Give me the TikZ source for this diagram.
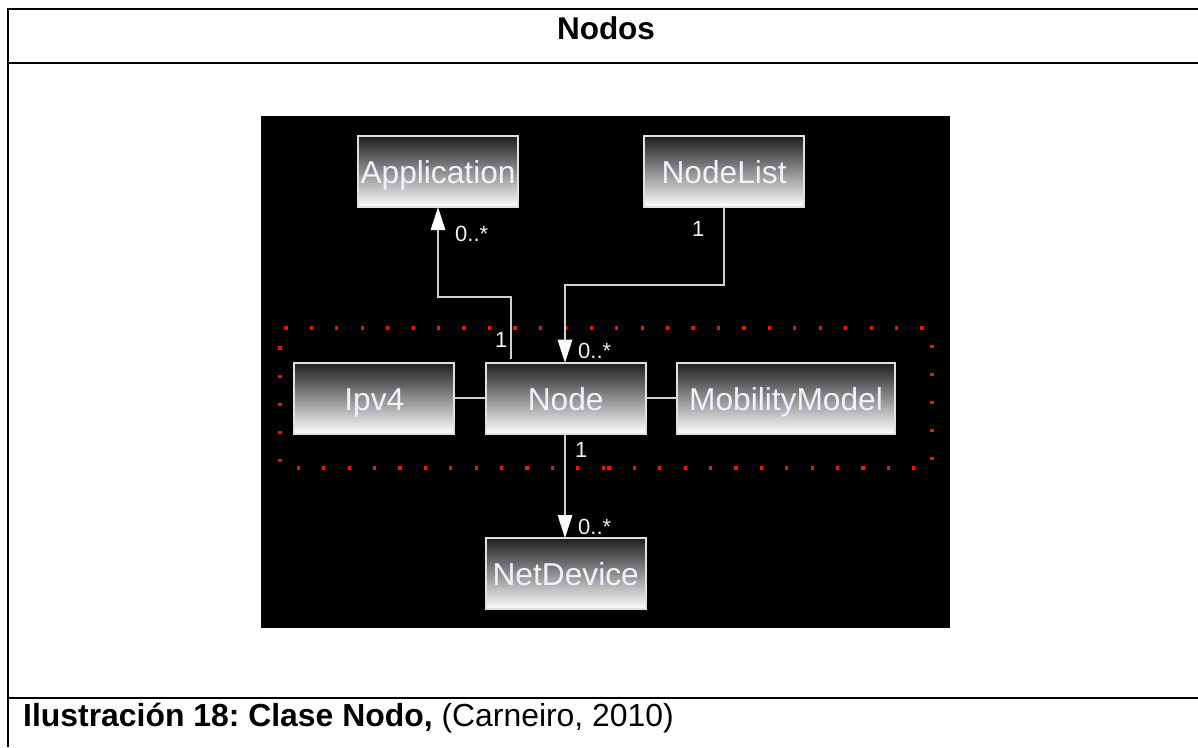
\documentclass[tikz,border=0pt]{standalone}
\usepackage{fontspec}
\setmainfont{Liberation Sans}
\frenchspacing
\usetikzlibrary{arrows.meta,calc}
\definecolor{dotred}{RGB}{240,20,0}
\definecolor{clstext}{RGB}{238,242,252}
\tikzset{
  px/.style={x=1pt,y=-1pt},
  frameline/.style={draw=black,line width=2pt},
  cls/.style={draw=white!88!black,line width=1.8pt,top color=black!88,bottom color=white,inner sep=0pt,outer sep=0pt,
    text=clstext,font=\fontsize{31.7}{31.7}\selectfont,anchor=north west,text height=47.5pt,text depth=23.5pt,minimum height=71pt},
  conn/.style={draw=white!82!black,line width=1.6pt},
  tip/.style={-{Triangle[length=23pt,width=14.5pt,fill=white,color=white]}},
  mult/.style={text=clstext,font=\fontsize{22}{22}\selectfont,inner sep=0pt,anchor=base west},
  dot/.style={fill=dotred,inner sep=0pt,minimum size=3.2pt,draw=none,rectangle},
}
\begin{document}
\begin{tikzpicture}[px]
\useasboundingbox (0,0) rectangle (1198,747);
\fill[white] (0,0) rectangle (1198,747);
\draw[frameline] (1198,9) -- (8,9) -- (8,747) (8,62.5) -- (1198,62.5) (8,698) -- (1198,698);
\node[font=\bfseries\fontsize{31.5}{31.5}\selectfont,inner sep=0pt,anchor=base] (title) at (606,39) {Nodos};
\node[font=\fontsize{31.9}{31.9}\selectfont,inner sep=0pt,anchor=base west] (caption) at (23,726) {\textbf{Ilustración 18: Clase Nodo,} (Carneiro, 2010)};
\fill[black] (261,116) rectangle (950,628);
\foreach \k in {0,...,25} \node[dot] (t\k) at ({286+25.44*\k},328) {};
\foreach \k in {0,...,12} \node[dot] (ba\k) at ({298.3+25.4*\k},468) {};
\foreach \k in {0,...,12} \node[dot] (bb\k) at ({609+25.4*\k},468) {};
\foreach \k in {0,...,4} \node[dot] (l\k) at (280,{348+28.1*\k}) {};
\foreach \k in {0,...,4} \node[dot] (r\k) at (932,{346.5+28*\k}) {};
\node[cls,minimum width=159.5pt] (app) at (358.3,136.2) {Application};
\node[cls,minimum width=159.5pt] (list) at (644.3,136.2) {NodeList};
\node[cls,minimum width=160pt] (ipv) at (294.3,362.7) {Ipv4};
\node[cls,minimum width=160pt] (node) at (485.7,362.7) {Node};
\node[cls,minimum width=218pt] (mob) at (677,362.7) {MobilityModel};
\node[cls,minimum width=160pt] (net) at (485.7,538) {NetDevice};
\coordinate (a1) at (511,359);
\coordinate (a2) at (511,297);
\coordinate (a3) at (438,297);
\draw[conn,tip] (a1) -- (a2) -- (a3) -- (a3 |- app.south);
\coordinate (b1) at (724,285);
\coordinate (b2) at (565,285);
\draw[conn,tip] (b1 |- list.south) -- (b1) -- (b2) -- (b2 |- node.north);
\draw[conn,tip] (b2 |- node.south) -- (b2 |- net.north);
\draw[conn] (ipv.east) -- (node.west);
\draw[conn] (node.east) -- (mob.west);
\node[mult] (m1) at (455,241) {0..*};
\node[mult] (m2) at (692,236) {1};
\node[mult] (m3) at (495,347) {1};
\node[mult] (m4) at (578,358) {0..*};
\node[mult] (m5) at (575,457) {1};
\node[mult] (m6) at (578,534) {0..*};
\end{tikzpicture}
\end{document}
